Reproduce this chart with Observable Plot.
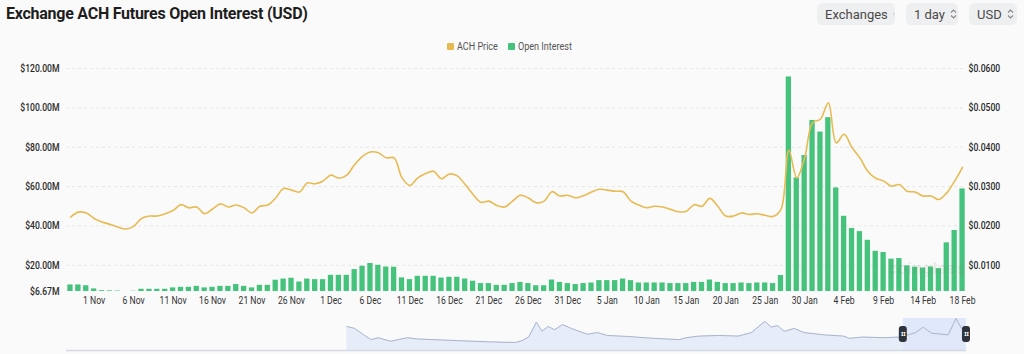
<!DOCTYPE html>
<html>
<head>
<meta charset="utf-8">
<script src="https://cdn.jsdelivr.net/npm/d3@7"></script>
<script src="https://cdn.jsdelivr.net/npm/@observablehq/plot@0.6"></script>
<style>
  html, body { margin: 0; padding: 0; }
  body { background: #fafafa; width: 1024px; height: 354px; overflow: hidden; position: relative; font-family: Roboto, "Noto Sans", sans-serif; }
  #title { position: absolute; left: 6px; top: 4px; font: 700 16px Roboto, sans-serif; color: #1e1e1e; letter-spacing: -0.25px; white-space: nowrap; }
  .btn { position: absolute; top: 3px; height: 22px; background: #eeeff0; border-radius: 5px; font: 13px Roboto, sans-serif; color: #4a4a4a; display: flex; align-items: center; box-sizing: border-box; padding-left: 8px; }
  .btn svg { margin-left: 5px; }
  .lg { position: absolute; top: 40px; font: 10.5px Roboto, sans-serif; color: #555; white-space: nowrap; transform: scaleX(0.86); transform-origin: left center; }
  .sq { position: absolute; top: 43px; width: 7px; height: 7px; border-radius: 1px; }
  #chart { position: absolute; left: 0; top: 56px; }
  #nav { position: absolute; left: 0; top: 314px; }
  #wm { position: absolute; left: 888px; top: 258px; font: 700 17px Roboto, sans-serif; color: rgba(120,120,120,0.12); letter-spacing: 0.5px; }
</style>
</head>
<body>
<div id="title">Exchange ACH Futures Open Interest (USD)</div>
<div class="btn" style="left:817px;width:78px">Exchanges<svg width="7" height="10" viewBox="0 0 7 10"><path d="M1 3.5 L3.5 1 L6 3.5 M1 6.5 L3.5 9 L6 6.5" fill="none" stroke="#888" stroke-width="1.1"/></svg></div>
<div class="btn" style="left:906px;width:52px">1 day<svg width="7" height="10" viewBox="0 0 7 10"><path d="M1 3.5 L3.5 1 L6 3.5 M1 6.5 L3.5 9 L6 6.5" fill="none" stroke="#888" stroke-width="1.1"/></svg></div>
<div class="btn" style="left:969px;width:48px">USD<svg width="7" height="10" viewBox="0 0 7 10"><path d="M1 3.5 L3.5 1 L6 3.5 M1 6.5 L3.5 9 L6 6.5" fill="none" stroke="#888" stroke-width="1.1"/></svg></div>
<div class="sq" style="left:447px;background:#e8bb52"></div><div class="lg" style="left:457px">ACH Price</div>
<div class="sq" style="left:508px;background:#45c37d"></div><div class="lg" style="left:518px">Open Interest</div>
<div id="chart"></div>
<div id="wm">coinglass</div>
<div id="nav"></div>
<script>
// ---- data ----
// Open interest in millions of USD, one value per day (29 Oct ... last day)
const openInterestM = [
  10.0, 10.0, 9.6, 8.0, 7.1, 7.0, 6.9, 6.6, 6.8, 7.8,
  7.8, 7.8, 7.8, 8.5, 8.8, 8.8, 9.3, 8.5, 8.8, 9.3,
  9.3, 10.2, 9.3, 8.5, 9.8, 9.8, 12.4, 13.0, 13.4, 11.5,
  13.0, 12.7, 12.7, 14.9, 14.9, 14.9, 17.8, 19.5, 20.9, 20.0,
  19.1, 19.0, 13.6, 12.7, 14.4, 14.4, 14.4, 13.5, 13.9, 13.9,
  13.0, 11.9, 10.7, 10.7, 9.8, 9.8, 10.7, 11.3, 10.7, 9.6,
  9.6, 12.5, 11.3, 10.7, 10.2, 10.7, 11.0, 12.2, 12.2, 12.2,
  13.0, 12.2, 11.0, 11.0, 11.0, 11.0, 10.7, 10.7, 10.7, 11.3,
  11.3, 12.5, 11.3, 10.7, 10.7, 11.0, 10.7, 11.0, 11.0, 10.7,
  14.8, 115.7, 64.4, 75.8, 93.6, 87.7, 95.0, 59.3, 44.9, 38.7,
  37.1, 32.7, 27.1, 26.5, 23.1, 23.4, 19.7, 19.0, 18.6, 19.1,
  18.3, 31.4, 37.7, 58.8
];
// ACH price in USD, same days
const achPrice = [
  0.0222, 0.0235, 0.0233, 0.0219, 0.0210, 0.0204, 0.0197, 0.0192, 0.0199, 0.0219,
  0.0225, 0.0225, 0.0231, 0.0239, 0.0254, 0.0246, 0.0248, 0.0231, 0.0243, 0.0256,
  0.0248, 0.0253, 0.0246, 0.0233, 0.0250, 0.0253, 0.0271, 0.0295, 0.0291, 0.0286,
  0.0309, 0.0307, 0.0314, 0.0329, 0.0321, 0.0329, 0.0356, 0.0377, 0.0388, 0.0386,
  0.0373, 0.0373, 0.0322, 0.0303, 0.0322, 0.0333, 0.0339, 0.0320, 0.0332, 0.0327,
  0.0305, 0.0280, 0.0260, 0.0263, 0.0252, 0.0248, 0.0263, 0.0278, 0.0271, 0.0259,
  0.0263, 0.0287, 0.0276, 0.0278, 0.0271, 0.0277, 0.0286, 0.0293, 0.0291, 0.0288,
  0.0287, 0.0263, 0.0253, 0.0246, 0.0250, 0.0248, 0.0242, 0.0236, 0.0237, 0.0254,
  0.0250, 0.0270, 0.0250, 0.0225, 0.0225, 0.0233, 0.0229, 0.0231, 0.0227, 0.0224,
  0.0242, 0.0393, 0.0322, 0.0373, 0.0462, 0.0471, 0.0513, 0.0411, 0.0433, 0.0399,
  0.0373, 0.0339, 0.0321, 0.0314, 0.0301, 0.0305, 0.0288, 0.0286, 0.0276, 0.0276,
  0.0267, 0.0284, 0.0314, 0.0349
];
// x-axis tick labels and the day index each sits on
const xTickLabels = ["1 Nov","6 Nov","11 Nov","16 Nov","21 Nov","26 Nov","1 Dec","6 Dec","11 Dec","16 Dec","21 Dec","26 Dec","31 Dec","5 Jan","10 Jan","15 Jan","20 Jan","25 Jan","30 Jan","4 Feb","9 Feb","14 Feb","18 Feb"];
const xTickIndex = [3,8,13,18,23,28,33,38,43,48,53,58,63,68,73,78,83,88,93,98,103,108,113];
// left axis (USD open interest) and right axis (price)
const oiTicks = [6.67e6, 20e6, 40e6, 60e6, 80e6, 100e6, 120e6];
const priceTicks = [0.01, 0.02, 0.03, 0.04, 0.05, 0.06];
const priceToOI = 2e9; // right axis: $0.0600 sits level with $120.00M
// navigator (full history overview): day position and relative level
const navDay = [506,520,538,550,562,585,615,633,704,763,810,822,834,848,858,869,881,895,911,928,940,958,976,1011,1059,1106,1118,1141,1177,1212,1236,1260,1272,1283,1295,1313,1331,1366,1402,1413,1437,1473,1506,1532,1546,1561,1591,1605,1615,1620];
const navVal = [75,69,47,34,40,29,40,36,31,27,25,31,42,89,60,75,65,81,69,58,51,56,47,44,38,34,40,45,47,45,56,91,73,78,60,69,56,49,45,38,42,40,42,56,73,54,49,100,69,65];
const navTotalDays = 1624;

// ---- build ----
const rows = openInterestM.map((v, i) => ({ i, oi: v * 1e6, price: achPrice[i] * priceToOI }));
const fontFam = 'Roboto, "Noto Sans", sans-serif';
const green = "#45c37d", gold = "#e8bb52";
const yMin = oiTicks[0], yMax = oiTicks[oiTicks.length - 1];

const chart = Plot.plot({
  width: 1024,
  height: 260,
  marginTop: 12,
  marginBottom: 25,
  marginLeft: 66,
  marginRight: 58,
  style: { background: "transparent", fontFamily: fontFam, fontSize: "10.5px", color: "#333" },
  x: { type: "linear", domain: [-0.5, openInterestM.length - 0.5], axis: null },
  y: { domain: [yMin, yMax], axis: null, clamp: true },
  marks: [
    Plot.ruleY(oiTicks.slice(1), { stroke: "#e6e6e6", strokeDasharray: "3,3" }),
    Plot.rectY(rows, { x1: d => d.i - 0.5, x2: d => d.i + 0.5, y1: yMin, y2: "oi", fill: green, insetLeft: 1.3, insetRight: 1.3 }),
    Plot.line(rows, { x: "i", y: "price", stroke: gold, strokeWidth: 1.6, curve: "catmull-rom" }),
    Plot.axisY(oiTicks, { anchor: "left", tickSize: 0, tickPadding: 7, tickFormat: d => "$" + (d / 1e6).toFixed(2) + "M", fill: "#2b2b2b", fontWeight: 500, label: null }),
    Plot.axisY(priceTicks.map(p => p * priceToOI), { anchor: "right", tickSize: 0, tickPadding: 2, tickFormat: d => "$" + (d / priceToOI).toFixed(4), fill: "#2b2b2b", fontWeight: 500, label: null }),
    Plot.axisX(xTickIndex, { anchor: "bottom", tickSize: 0, tickPadding: 5, tickFormat: (d) => xTickLabels[xTickIndex.indexOf(d)], fill: "#333", label: null })
  ]
});
document.getElementById("chart").appendChild(chart);
// the reference's axis font is narrow: squeeze tick labels horizontally about their own anchor point
chart.querySelectorAll('g[aria-label$="tick label"] text').forEach(t => {
  const tr = t.getAttribute("transform") || "";
  t.setAttribute("transform", tr + " scale(0.82,1)");
});

const navRows = navDay.map((d, k) => ({ d, v: navVal[k] }));
const selStart = navTotalDays - openInterestM.length;
const handles = [selStart, navTotalDays];
const nav = Plot.plot({
  width: 1024,
  height: 40,
  marginTop: 4,
  marginBottom: 4,
  marginLeft: 66,
  marginRight: 58,
  style: { background: "transparent", overflow: "visible" },
  x: { domain: [0, navTotalDays], axis: null },
  y: { domain: [0, 100], axis: null },
  marks: [
    Plot.rect([0], { x1: selStart, x2: navTotalDays, fill: "#d9e4fb", fillOpacity: 0.8 }),
    Plot.areaY(navRows, { x: "d", y: "v", fill: "#dfe7f7", fillOpacity: 0.75, curve: "linear" }),
    Plot.lineY(navRows, { x: "d", y: "v", stroke: "#a9b5cd", strokeWidth: 1 }),
    Plot.ruleY([0], { stroke: "#d3dae6", strokeWidth: 1.5 }),
    Plot.rect(handles, { x1: d => d, x2: d => d, insetLeft: -4, insetRight: -4, insetTop: 8, insetBottom: 8, fill: "#2f333b", rx: 3 }),
    Plot.text(handles, { x: d => d, text: () => "II", frameAnchor: "middle", fill: "#fff", fontSize: 6, fontWeight: 700 })
  ]
});
document.getElementById("nav").appendChild(nav);
</script>
</body>
</html>
